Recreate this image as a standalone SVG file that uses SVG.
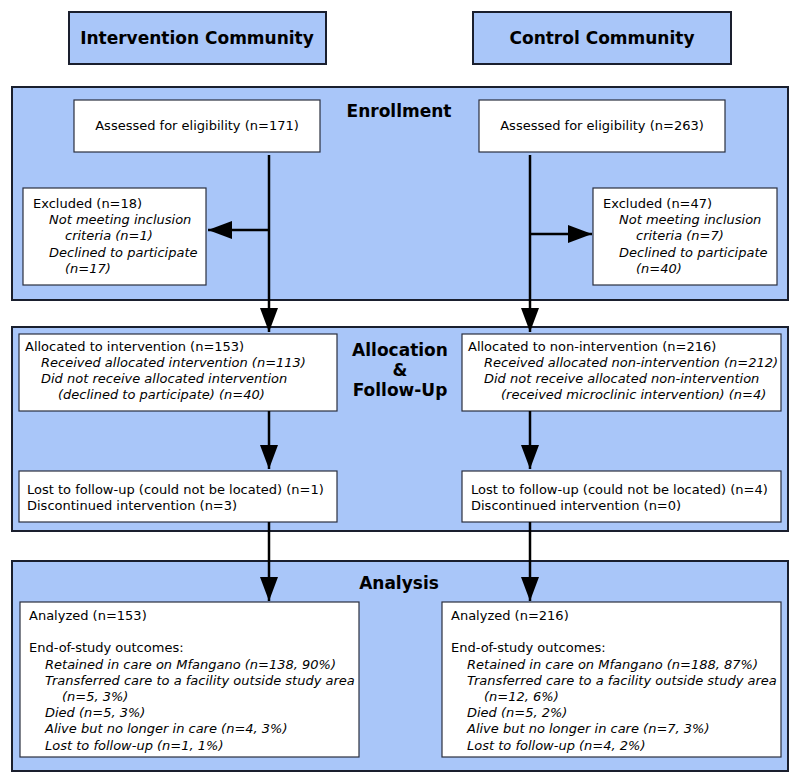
<svg xmlns="http://www.w3.org/2000/svg" width="800" height="784" viewBox="0 0 800 784">
<defs>
<style>
.panel{fill:#a9c6f9;stroke:#1a1f2e;stroke-width:2}
.hdr{fill:#a9c6f9;stroke:#1a1f2e;stroke-width:2}
.box{fill:#ffffff;stroke:#2a2f3e;stroke-width:1.2}
text{font-family:"DejaVu Sans","Liberation Sans",sans-serif;fill:#000}
.t{font-size:13px}
.i{font-size:13px;font-style:italic}
.title{font-size:17px;font-weight:bold;text-anchor:middle}
.mid{text-anchor:middle}
.conn{stroke:#000;stroke-width:2.5;fill:none}
</style>
<marker id="ah" markerUnits="userSpaceOnUse" markerWidth="24" markerHeight="18" refX="24" refY="9" orient="auto">
<path d="M0,0 L24,9 L0,18 z" fill="#000"/>
</marker>
</defs>
<rect width="800" height="784" fill="#fff"/>

<g id="hdr-intervention">
<rect class="hdr" x="69" y="12" width="257" height="52"/>
<text class="title" x="197" y="44">Intervention Community</text>
</g>
<g id="hdr-control">
<rect class="hdr" x="473" y="12" width="258" height="52"/>
<text class="title" x="602" y="44">Control Community</text>
</g>

<g id="panel-enrollment">
<rect class="panel" x="12" y="87" width="776" height="213"/>
<text class="title" x="399" y="117">Enrollment</text>
</g>
<g id="panel-allocation">
<rect class="panel" x="12" y="327" width="776" height="204"/>
<text class="title" x="400" y="356">Allocation</text>
<text class="title" x="400" y="376">&amp;</text>
<text class="title" x="400" y="396">Follow-Up</text>
</g>
<g id="panel-analysis">
<rect class="panel" x="12" y="561" width="776" height="210"/>
<text class="title" x="399" y="589">Analysis</text>
</g>

<g id="assessed-left">
<rect class="box" x="74" y="100" width="246" height="52"/>
<text class="t mid" x="197" y="130">Assessed for eligibility (n=171)</text>
</g>
<g id="assessed-right">
<rect class="box" x="479" y="100" width="246" height="52"/>
<text class="t mid" x="602" y="130">Assessed for eligibility (n=263)</text>
</g>

<g id="excluded-left">
<rect class="box" x="23" y="188" width="183" height="97"/>
<text class="t" x="33" y="208">Excluded (n=18)</text>
<text class="i" x="49" y="224">Not meeting inclusion</text>
<text class="i" x="65" y="240">criteria (n=1)</text>
<text class="i" x="49" y="257">Declined to participate</text>
<text class="i" x="65" y="273">(n=17)</text>
</g>
<g id="excluded-right">
<rect class="box" x="593" y="188" width="184" height="97"/>
<text class="t" x="603" y="208">Excluded (n=47)</text>
<text class="i" x="619" y="224">Not meeting inclusion</text>
<text class="i" x="636" y="240">criteria (n=7)</text>
<text class="i" x="619" y="257">Declined to participate</text>
<text class="i" x="636" y="273">(n=40)</text>
</g>

<g id="allocated-left">
<rect class="box" x="19" y="334" width="318" height="77"/>
<text class="t" x="25" y="351">Allocated to intervention (n=153)</text>
<text class="i" x="41" y="367">Received allocated intervention (n=113)</text>
<text class="i" x="41" y="383">Did not receive allocated intervention</text>
<text class="i" x="58" y="399">(declined to participate) (n=40)</text>
</g>
<g id="allocated-right">
<rect class="box" x="462" y="334" width="319" height="77"/>
<text class="t" x="468" y="351">Allocated to non-intervention (n=216)</text>
<text class="i" x="484" y="367">Received allocated non-intervention (n=212)</text>
<text class="i" x="484" y="383">Did not receive allocated non-intervention</text>
<text class="i" x="501" y="399">(received microclinic intervention) (n=4)</text>
</g>

<g id="lost-left">
<rect class="box" x="19" y="471" width="318" height="51"/>
<text class="t" x="27" y="494">Lost to follow-up (could not be located) (n=1)</text>
<text class="t" x="27" y="510">Discontinued intervention (n=3)</text>
</g>
<g id="lost-right">
<rect class="box" x="462" y="471" width="319" height="51"/>
<text class="t" x="471" y="494">Lost to follow-up (could not be located) (n=4)</text>
<text class="t" x="471" y="510">Discontinued intervention (n=0)</text>
</g>

<g id="analyzed-left">
<rect class="box" x="20" y="602" width="339" height="155"/>
<text class="t" x="29" y="620">Analyzed (n=153)</text>
<text class="t" x="29" y="652.4">End-of-study outcomes:</text>
<text class="i" x="45" y="668.6">Retained in care on Mfangano (n=138, 90%)</text>
<text class="i" x="45" y="684.8">Transferred care to a facility outside study area</text>
<text class="i" x="62" y="701">(n=5, 3%)</text>
<text class="i" x="45" y="717.2">Died (n=5, 3%)</text>
<text class="i" x="45" y="733.4">Alive but no longer in care (n=4, 3%)</text>
<text class="i" x="45" y="749.6">Lost to follow-up (n=1, 1%)</text>
</g>
<g id="analyzed-right">
<rect class="box" x="442" y="602" width="339" height="155"/>
<text class="t" x="451" y="620">Analyzed (n=216)</text>
<text class="t" x="451" y="652.4">End-of-study outcomes:</text>
<text class="i" x="467" y="668.6">Retained in care on Mfangano (n=188, 87%)</text>
<text class="i" x="467" y="684.8">Transferred care to a facility outside study area</text>
<text class="i" x="484" y="701">(n=12, 6%)</text>
<text class="i" x="467" y="717.2">Died (n=5, 2%)</text>
<text class="i" x="467" y="733.4">Alive but no longer in care (n=7, 3%)</text>
<text class="i" x="467" y="749.6">Lost to follow-up (n=4, 2%)</text>
</g>

<g id="connectors">
<line class="conn" x1="269" y1="155" x2="269" y2="332" marker-end="url(#ah)"/>
<line class="conn" x1="269" y1="230" x2="208" y2="230" marker-end="url(#ah)"/>
<line class="conn" x1="530" y1="155" x2="530" y2="332" marker-end="url(#ah)"/>
<line class="conn" x1="530" y1="234" x2="592" y2="234" marker-end="url(#ah)"/>
<line class="conn" x1="269" y1="411" x2="269" y2="469" marker-end="url(#ah)"/>
<line class="conn" x1="530" y1="411" x2="530" y2="469" marker-end="url(#ah)"/>
<line class="conn" x1="269" y1="522" x2="269" y2="601" marker-end="url(#ah)"/>
<line class="conn" x1="530" y1="522" x2="530" y2="601" marker-end="url(#ah)"/>
</g>
</svg>
